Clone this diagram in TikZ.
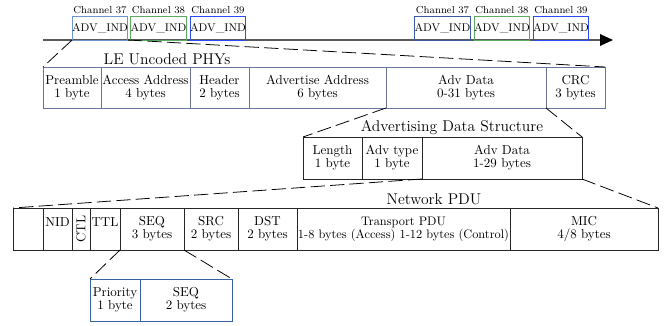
\documentclass[tikz,border=0pt]{standalone}
\usetikzlibrary{arrows.meta}
\definecolor{chlight}{RGB}{110,150,205}
\definecolor{chdark}{RGB}{60,90,160}
\definecolor{chgreen}{RGB}{90,170,95}
\definecolor{chblue}{RGB}{45,75,245}
\definecolor{lecol}{RGB}{105,115,155}
\definecolor{priocol}{RGB}{55,100,160}
\newcommand{\fld}[7]{\node[#7, minimum width={(#3-#2)*0.77pt}, minimum height={(#5-#4)*0.77pt}] (#1) at ({(#2+#3)/2},{(#4+#5)/2}) {#6};}
\tikzset{
  fieldbox/.style={draw, inner sep=0pt, outer sep=0pt, align=center, line width=0.7pt,
    font=\fontsize{10}{10}\selectfont},
  lebox/.style={fieldbox, draw=lecol},
  blackbox/.style={fieldbox, draw=black!85},
  priobox/.style={fieldbox, draw=priocol},
  advbox/.style={draw, inner sep=0pt, outer sep=0pt, line width=0.7pt, font=\fontsize{8.6}{9}\selectfont},
  chlab/.style={inner sep=0pt, font=\fontsize{7.8}{8}\selectfont},
  titlelab/.style={inner sep=0pt, font=\large},
  expand/.style={line width=0.6pt, dash pattern=on 11pt off 4pt},
}
\begin{document}
\begin{tikzpicture}[x=0.77pt, y=-0.77pt]
\useasboundingbox (0,0) rectangle (667,326);
% timeline
\coordinate (tl0) at (43,40);
\coordinate (tl1) at (613,40);
\draw[line width=0.8pt, black!65, -{Triangle[length=10pt,width=9pt,color=black]}] (tl0) -- (tl1);
% channel boxes
\fld{a37}{73}{127}{16}{40}{ADV\_IND}{advbox, draw=chlight}
\fld{a38}{132}{185}{16}{40}{ADV\_IND}{advbox, draw=chgreen}
\fld{a39}{191}{245}{16}{40}{ADV\_IND}{advbox, draw=chblue}
\fld{b37}{416}{469}{16}{40}{ADV\_IND}{advbox, draw=chdark}
\fld{b38}{475}{529}{16}{40}{ADV\_IND}{advbox, draw=chgreen}
\fld{b39}{534}{588}{16}{40}{ADV\_IND}{advbox, draw=chblue}
\node[chlab] (la37) at (100,10) {Channel 37};
\node[chlab] (la38) at (158.5,10) {Channel 38};
\node[chlab] (la39) at (218,10) {Channel 39};
\node[chlab] (lb37) at (442.5,10) {Channel 37};
\node[chlab] (lb38) at (502,10) {Channel 38};
\node[chlab] (lb39) at (561,10) {Channel 39};
% LE Uncoded PHYs
\node[titlelab] (letitle) at (167,59) {LE Uncoded PHYs};
\fld{pre}{43}{101}{67}{108}{Preamble\\1 byte}{lebox}
\fld{acc}{101}{190}{67}{108}{Access Address\\4 bytes}{lebox}
\fld{hdr}{190}{249}{67}{108}{Header\\2 bytes}{lebox}
\fld{adva}{249}{386}{67}{108}{Advertise Address\\6 bytes}{lebox}
\fld{advd}{386}{546}{67}{108}{Adv Data\\0-31 bytes}{lebox}
\fld{crc}{546}{605}{67}{108}{CRC\\3 bytes}{lebox}
% Advertising Data Structure
\node[titlelab] (adstitle) at (452,128) {Advertising Data Structure};
\fld{len}{303}{362}{137}{179}{Length\\1 byte}{blackbox}
\fld{atype}{362}{422}{137}{179}{Adv type\\1 byte}{blackbox}
\fld{adsd}{422}{582}{137}{179}{Adv Data\\1-29 bytes}{blackbox}
% Network PDU
\node[titlelab] (nettitle) at (434,199) {Network PDU};
\fld{n0}{13}{43}{208}{250}{}{blackbox}
\fld{nid}{43}{72}{208}{250}{NID\\\mbox{}}{blackbox}
\fld{ctl}{72}{90}{208}{250}{}{blackbox}
\node[rotate=90, inner sep=0pt, font=\fontsize{10}{10}\selectfont] (ctltxt) at (ctl.center) {CTL};
\fld{ttl}{90}{120}{208}{250}{TTL\\\mbox{}}{blackbox}
\fld{seq}{120}{184}{208}{250}{SEQ\\3 bytes}{blackbox}
\fld{src}{184}{238}{208}{250}{SRC\\2 bytes}{blackbox}
\fld{dst}{238}{297}{208}{250}{DST\\2 bytes}{blackbox}
\fld{tpdu}{297}{510}{208}{250}{Transport PDU\\1-8 bytes (Access) 1-12 bytes (Control)}{blackbox, font=\fontsize{9.5}{10}\selectfont}
\fld{mic}{510}{658}{208}{250}{MIC\\4/8 bytes}{blackbox}
% SEQ breakdown
\fld{prio}{90}{140}{279}{321}{Priority\\1 byte}{priobox}
\fld{seq2}{140}{232}{279}{321}{SEQ\\2 bytes}{priobox}
% expansion lines
\draw[expand] (a37.south west) -- (pre.north west);
\draw[expand] (a37.south east) -- (crc.north east);
\draw[expand] (advd.south west) -- (len.north west);
\draw[expand] (advd.south east) -- (adsd.north east);
\draw[expand] (adsd.south west) -- (n0.north west);
\draw[expand] (adsd.south east) -- (mic.north east);
\draw[expand] (seq.south west) -- (prio.north west);
\draw[expand] (seq.south east) -- (seq2.north east);
\end{tikzpicture}
\end{document}
